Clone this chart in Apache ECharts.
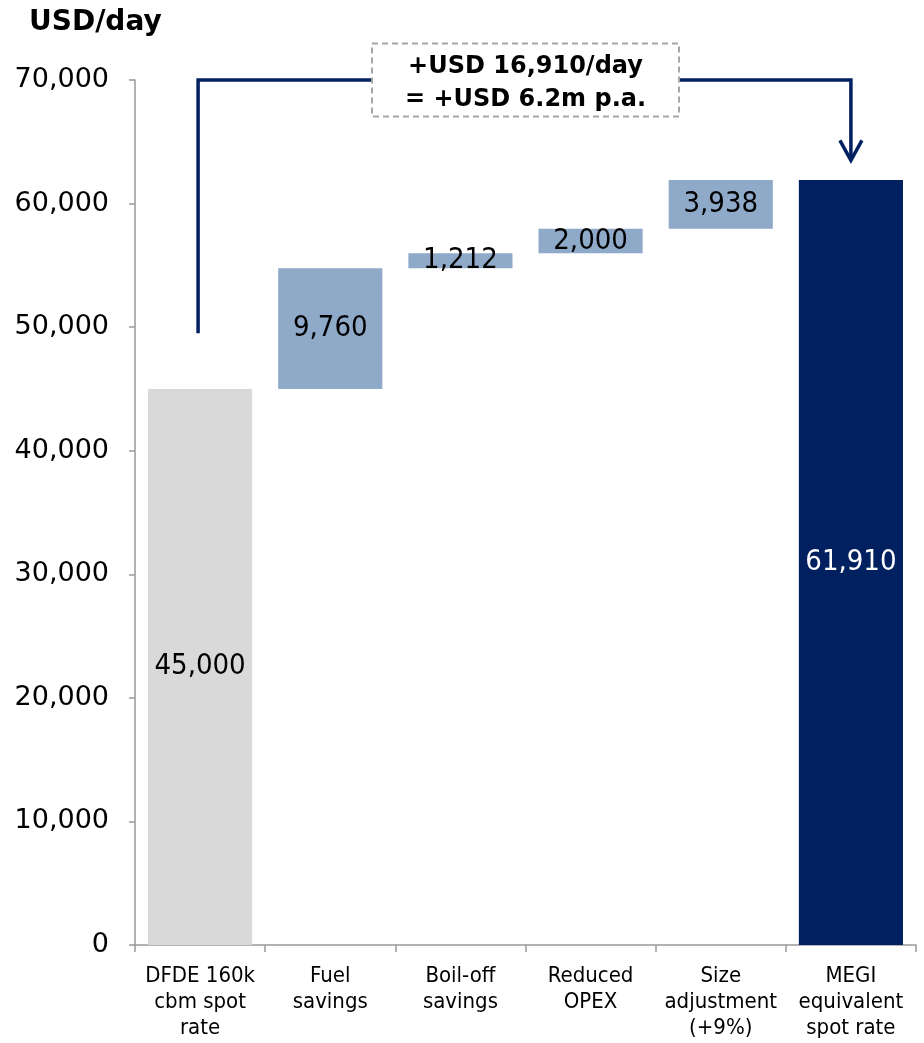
<!DOCTYPE html>
<html>
<head>
<meta charset="utf-8">
<style>
  html, body { margin: 0; padding: 0; background: #ffffff; }
  #chart { width: 924px; height: 1043px; }
</style>
<script src="https://cdn.jsdelivr.net/npm/echarts@6/dist/echarts.min.js"></script>
</head>
<body>
<div id="chart"></div>
<script>
// Waterfall: DFDE spot rate plus the MEGI savings steps, ending at the MEGI equivalent rate.
const categories = [
  'DFDE 160k\ncbm spot\nrate',
  'Fuel\nsavings',
  'Boil-off\nsavings',
  'Reduced\nOPEX',
  'Size\nadjustment\n(+9%)',
  'MEGI\nequivalent\nspot rate'
];
const startRate = 45000;
const stepValues = [9760, 1212, 2000, 3938];
const endRate = 61910;
const yTicks = [0, 10000, 20000, 30000, 40000, 50000, 60000, 70000];

// Annotation: bracket from the start bar to the end bar
const bracketStartValue = 49500;
const bracketTopValue = 70000;
const arrowTipValue = 63500;
const noteLines = ['+USD 16,910/day', '= +USD 6.2m p.a.'];

const COLORS = {
  start: '#d9d9d9',
  step: '#8fa9c9',
  end: '#002060',
  axis: '#999999',
  text: '#000000'
};

// Invisible base for floating steps, plus the visible segment for each column
const baseData = [0];
const visibleData = [{ value: startRate, itemStyle: { color: COLORS.start } }];
let running = startRate;
stepValues.forEach(v => {
  baseData.push(running);
  visibleData.push({ value: v, itemStyle: { color: COLORS.step } });
  running += v;
});
baseData.push(0);
visibleData.push({
  value: endRate,
  itemStyle: { color: COLORS.end },
  label: { color: '#ffffff' }
});

const fmt = n => n.toLocaleString('en-US');

const chart = echarts.init(document.getElementById('chart'), null, { renderer: 'canvas' });

const option = {
  animation: false,
  backgroundColor: '#ffffff',
  title: {
    text: 'USD/day',
    left: 24,
    top: 4,
    textStyle: { fontFamily: 'DejaVu Sans', fontWeight: 'bold', fontSize: 28, color: COLORS.text }
  },
  grid: { left: 135, right: 8, top: 80, bottom: 98, containLabel: false },
  xAxis: {
    type: 'category',
    data: categories,
    axisLine: { lineStyle: { color: COLORS.axis, width: 1.5 } },
    axisTick: { show: true, length: 7, lineStyle: { color: COLORS.axis, width: 1.5 } },
    axisLabel: {
      interval: 0,
      margin: 18,
      fontFamily: 'DejaVu Sans Condensed',
      fontSize: 22,
      lineHeight: 26,
      color: COLORS.text
    }
  },
  yAxis: {
    type: 'value',
    min: yTicks[0],
    max: yTicks[yTicks.length - 1],
    interval: yTicks[1] - yTicks[0],
    splitLine: { show: false },
    axisLine: { show: true, lineStyle: { color: COLORS.axis, width: 1.5 } },
    axisTick: { show: true, length: 6, lineStyle: { color: COLORS.axis, width: 1.5 } },
    axisLabel: {
      margin: 26,
      fontFamily: 'DejaVu Sans',
      fontSize: 27,
      color: COLORS.text,
      formatter: v => fmt(v)
    }
  },
  series: [
    {
      type: 'bar',
      stack: 'wf',
      data: baseData,
      barWidth: '80%',
      itemStyle: { color: 'transparent' },
      emphasis: { disabled: true },
      silent: true
    },
    {
      type: 'bar',
      stack: 'wf',
      data: visibleData,
      barWidth: '80%',
      label: {
        show: true,
        position: 'inside',
        fontFamily: 'DejaVu Sans Condensed',
        fontSize: 29,
        color: COLORS.text,
        formatter: p => fmt(p.value)
      }
    },
    {
      // Bracket with arrow and the dashed note box
      type: 'custom',
      coordinateSystem: 'cartesian2d',
      clip: false,
      z: 10,
      silent: true,
      data: [[0, bracketStartValue]],
      renderItem: function (params, api) {
        const p0 = api.coord([0, bracketStartValue]);
        const pTopL = api.coord([0, bracketTopValue]);
        const pTopR = api.coord([categories.length - 1, bracketTopValue]);
        const pTip = api.coord([categories.length - 1, arrowTipValue]);
        const midX = (pTopL[0] + pTopR[0]) / 2;
        const boxW = 307, boxH = 73;
        const lineStyle = { stroke: COLORS.end, lineWidth: 3.5, fill: null };
        return {
          type: 'group',
          children: [
            {
              type: 'polyline',
              shape: { points: [[p0[0] - 2, p0[1]], [pTopL[0] - 2, pTopL[1]], pTopR, pTip] },
              style: lineStyle
            },
            {
              type: 'polyline',
              shape: { points: [[pTip[0] - 11, pTip[1] - 20], [pTip[0], pTip[1]], [pTip[0] + 11, pTip[1] - 20]] },
              style: lineStyle
            },
            {
              type: 'rect',
              shape: { x: midX - boxW / 2, y: pTopL[1] - boxH / 2, width: boxW, height: boxH },
              style: { fill: '#ffffff', stroke: '#a6a6a6', lineWidth: 2, lineDash: [6, 4] }
            },
            {
              type: 'text',
              x: midX,
              y: pTopL[1] + 3,
              style: {
                text: noteLines.join('\n'),
                align: 'center',
                verticalAlign: 'middle',
                fontFamily: 'DejaVu Sans',
                fontWeight: 'bold',
                fontSize: 24,
                lineHeight: 33,
                fill: COLORS.text
              }
            }
          ]
        };
      }
    }
  ]
};

chart.setOption(option);
</script>
</body>
</html>
